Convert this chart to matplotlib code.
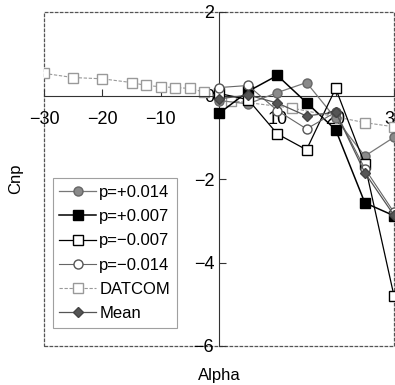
import matplotlib
matplotlib.use("Agg")
import matplotlib.pyplot as plt
from matplotlib.patches import Rectangle

plt.rcParams['font.family'] = ['Liberation Sans', 'DejaVu Sans']

alpha = [0, 5, 10, 15, 20, 25, 30]
p_p014 = [-0.12, -0.20, 0.07, 0.31, -0.55, -1.45, -1.00]
p_p007 = [-0.43, 0.10, 0.48, -0.17, -0.82, -2.57, -2.88]
p_m007 = [0.05, -0.10, -0.92, -1.30, 0.17, -1.65, -4.80]
p_m014 = [0.19, 0.24, -0.36, -0.80, -0.40, -1.75, -2.80]
mean = [-0.08, 0.01, -0.18, -0.49, -0.40, -1.85, -2.87]

datcom_alpha = [-30, -25, -20, -15, -12.5, -10, -7.5, -5, -2.5, 2, 12.5, 25, 30]
datcom = [0.53, 0.43, 0.40, 0.31, 0.24, 0.21, 0.19, 0.17, 0.08, -0.12, -0.30, -0.65, -0.75]

xticks = [-30, -20, -10, 10, 20, 30]
yticks = [-6, -4, -2, 0, 2]

fig = plt.figure(figsize=(3.95, 3.85), dpi=100)
ax = fig.add_axes([44/395, 39/385, 350/395, 334/385])
ax.set_xlim(-30, 30)
ax.set_ylim(-6, 2)

ax.plot(alpha, p_p014, color='#777777', lw=0.9, marker='o', ms=6.5,
        mfc='#8a8a8a', mec='#666666', label='p=+0.014', zorder=3)
ax.plot(alpha, p_p007, color='black', lw=1.1, marker='s', ms=6.5,
        mfc='black', mec='black', label='p=+0.007', zorder=3)
ax.plot(alpha, p_m007, color='black', lw=0.9, marker='s', ms=6.5,
        mfc='white', mec='black', label='p=\u22120.007', zorder=3)
ax.plot(alpha, p_m014, color='#666666', lw=0.8, marker='o', ms=6.5,
        mfc='white', mec='#555555', label='p=\u22120.014', zorder=3)
ax.plot(datcom_alpha, datcom, color='#999999', lw=0.8, ls=(0, (3, 1.5)), marker='s', ms=6.5,
        mfc='white', mec='#999999', label='DATCOM', zorder=2)
ax.plot(alpha, mean, color='#555555', lw=0.9, marker='D', ms=5,
        mfc='#555555', mec='#444444', label='Mean', zorder=3)

for s in ['top', 'right']:
    ax.spines[s].set_visible(False)
ax.spines['left'].set_position(('data', 0))
ax.spines['bottom'].set_position(('data', 0))
ax.spines['left'].set_color('#333333')
ax.spines['bottom'].set_color('#333333')
ax.add_patch(Rectangle((0, 0), 1, 1, transform=ax.transAxes, fill=False,
                       ec='#555555', lw=0.9, ls=(0, (3, 1)), clip_on=False, zorder=1))

ax.set_xticks(xticks)
ax.set_yticks(yticks)
ax.tick_params(direction='in', length=5, width=0.8, colors='#333333',
               labelcolor='black', labelsize=13)
ax.tick_params(axis='x', pad=11)

ax.set_xlabel('Alpha', fontsize=12)
ax.set_ylabel('Cnp', fontsize=12)
ax.xaxis.set_label_coords(0.5, -0.066)
ax.yaxis.set_label_coords(-0.06, 0.5)

leg = ax.legend(loc='lower left', bbox_to_anchor=(0.025, 0.055), fontsize=12,
                frameon=True, fancybox=False, edgecolor='#888888',
                handlelength=2.2, handletextpad=0.2, labelspacing=0.55,
                borderpad=0.4, borderaxespad=0)
leg.get_frame().set_linewidth(0.8)

fig.savefig('out.png', dpi=100)
